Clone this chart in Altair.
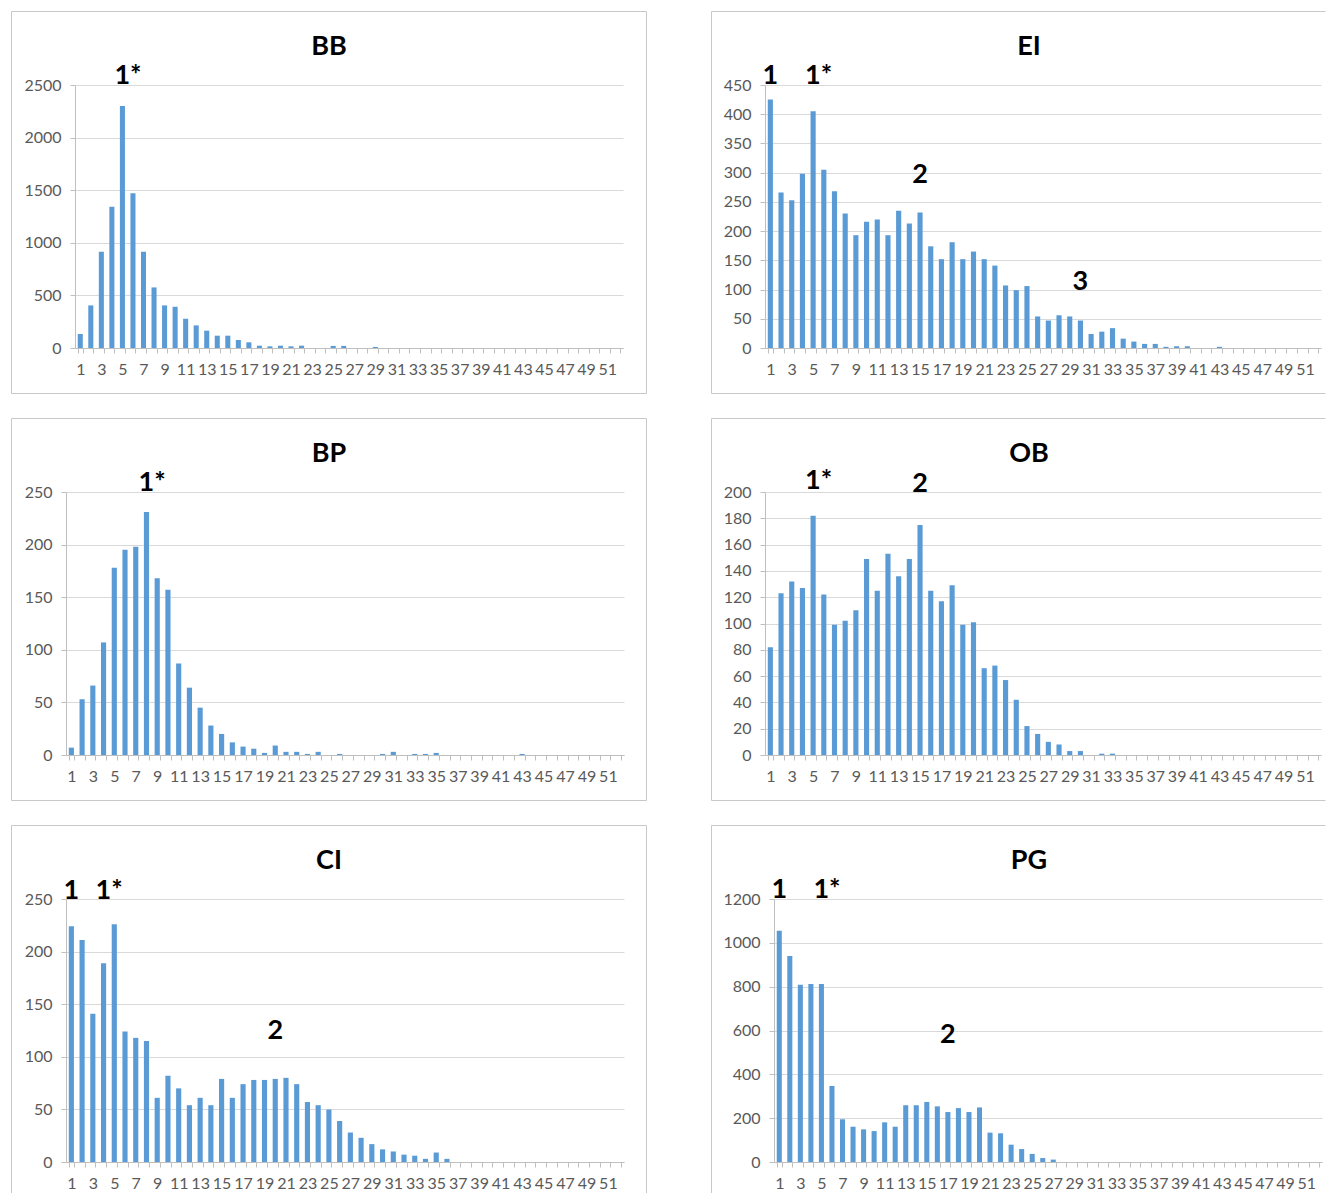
import altair as alt
import pandas as pd

# ---------------- data ----------------
categories = list(range(1, 53))

bb_values = [133, 405, 915, 1342, 2301, 1472, 915, 576, 405, 392, 278, 215, 165, 117, 117,
             76, 54, 22, 16, 22, 16, 22, 0, 0, 20, 20, 0, 0, 10] + [0] * 23
ei_values = [425, 266, 253, 298, 405, 305, 268, 230, 193, 216, 220, 193, 235, 213, 232,
             174, 152, 181, 152, 165, 152, 141, 107, 99, 106, 54, 47, 56, 54, 47, 24, 28,
             34, 16, 11, 7, 7, 2, 3, 3, 0, 0, 2] + [0] * 9
bp_values = [7, 53, 66, 107, 178, 195, 198, 231, 168, 157, 87, 64, 45, 28, 20, 12, 8, 6, 2,
             9, 3, 3, 1, 3, 0, 1, 0, 0, 0, 1, 3, 0, 1, 1, 2, 0, 0, 0, 0, 0, 0, 0, 1] + [0] * 9
ob_values = [82, 123, 132, 127, 182, 122, 99, 102, 110, 149, 125, 153, 136, 149, 175, 125,
             117, 129, 99, 101, 66, 68, 57, 42, 22, 16, 10, 8, 3, 3, 0, 1, 1] + [0] * 19
ci_values = [224, 211, 141, 189, 226, 124, 118, 115, 61, 82, 70, 54, 61, 54, 79, 61, 74, 78,
             78, 79, 80, 74, 57, 54, 50, 39, 28, 23, 17, 12, 10, 7, 6, 3, 9, 3] + [0] * 16
pg_values = [1055, 940, 809, 812, 812, 347, 195, 161, 149, 141, 181, 161, 259, 259, 274, 254,
             228, 246, 228, 249, 134, 131, 79, 59, 37, 18, 11] + [0] * 25

panel_names = ["BB", "EI", "BP", "OB", "CI", "PG"]
panel_values = {"BB": bb_values, "EI": ei_values, "BP": bp_values,
                "OB": ob_values, "CI": ci_values, "PG": pg_values}
y_max = {"BB": 2500, "EI": 450, "BP": 250, "OB": 200, "CI": 250, "PG": 1200}
y_step = {"BB": 500, "EI": 50, "BP": 50, "OB": 20, "CI": 50, "PG": 200}

# annotations (panel, label, category, value)
ann_panel = ["BB", "EI", "EI", "EI", "EI", "BP", "OB", "OB", "CI", "CI", "CI", "PG", "PG", "PG"]
ann_label = ["1*", "1", "1*", "2", "3", "1*", "1*", "2", "1", "1*", "2", "1", "1*", "2"]
ann_cat = [5, 1, 5, 15, 30, 8, 5, 15, 1, 4, 20, 1, 5, 17]
ann_value = [2590, 465, 465, 296, 113, 259, 208, 206, 258, 258, 125, 1240, 1240, 578]

# ---------------- style / layout ----------------
BAR = "#5B9BD5"
FONT = "Lato"
BORDER = "#c8c8c8"
PLOT_H = 263
BOX_TOP = 74
BOX_BOTTOM = 45
plot_width = {"BB": 548, "EI": 556, "BP": 558, "OB": 556, "CI": 558, "PG": 548}
# distance from the panel frame's left edge to the plot area's left edge
box_left = {"BB": 64, "EI": 54, "BP": 55, "OB": 54, "CI": 55, "PG": 63}
box_width = {"BB": 636, "BP": 636, "CI": 636, "EI": 615, "OB": 615, "PG": 615}
# left-column views share one origin; shift the plot inside the view instead
shift = {"BB": 0, "BP": -9, "CI": -9, "EI": 0, "OB": 0, "PG": 0}
has_right = {"BB": True, "BP": True, "CI": True, "EI": False, "OB": False, "PG": False}
has_bottom = {"BB": True, "EI": True, "BP": True, "OB": True, "CI": False, "PG": False}

ann_df = pd.DataFrame({"panel": ann_panel, "label": ann_label,
                       "cat": ann_cat, "val": ann_value})
one = pd.DataFrame({"k": [0]})


def hline(x1, x2, y):
    return alt.Chart(one).mark_rule(color=BORDER, strokeWidth=1).encode(
        x=alt.value(x1), x2=alt.value(x2), y=alt.value(y))


def vline(x, y1, y2):
    return alt.Chart(one).mark_rule(color=BORDER, strokeWidth=1).encode(
        x=alt.value(x), y=alt.value(y1), y2=alt.value(y2))


def panel(name):
    w = plot_width[name]
    s = shift[name]
    df = pd.DataFrame({"cat": categories, "val": panel_values[name]})
    xenc = alt.X(
        "cat:O",
        scale=alt.Scale(domain=categories, range=[s, s + w],
                        paddingInner=0.52, paddingOuter=0.26),
        axis=alt.Axis(
            title=None, labelAngle=0, labelOverlap=False, tickBand="extent",
            labelExpr="datum.value % 2 == 1 ? datum.label : ''",
            grid=False, domainColor="#bfbfbf", tickColor="#bfbfbf", tickSize=5,
            labelFont=FONT, labelFontSize=16, labelColor="#595959", labelPadding=8,
        ),
    )
    yenc = alt.Y(
        "val:Q",
        scale=alt.Scale(domain=[0, y_max[name]], nice=False, zero=True),
        axis=alt.Axis(
            title=None, values=list(range(0, y_max[name] + 1, y_step[name])), format="d",
            grid=True, gridColor="#d9d9d9", domainColor="#bfbfbf", tickColor="#bfbfbf",
            tickSize=5, labelFont=FONT, labelFontSize=16, labelColor="#595959",
            labelPadding=9, offset=-s,
        ),
    )
    bl = box_left[name]
    bw = box_width[name]
    left = s - bl + 0.5
    right = s - bl + bw - 0.5
    top = -BOX_TOP + 0.5
    bottom = PLOT_H + BOX_BOTTOM + 0.5
    y_end = bottom if has_bottom[name] else PLOT_H + 31
    frame = [hline(left, right, top), vline(left, top, y_end)]
    if has_right[name]:
        frame.append(vline(right, top, y_end))
    if has_bottom[name]:
        frame.append(hline(left, right, bottom))

    title = alt.Chart(one).mark_text(
        font=FONT, fontSize=27, fontWeight="bold", color="black",
        align="center", baseline="alphabetic",
    ).encode(x=alt.value(s - bl + 318), y=alt.value(-30), text=alt.value(name))

    bars = alt.Chart(df).mark_bar(color=BAR).encode(x=xenc, y=yenc)

    sub = ann_df[ann_df["panel"] == name]
    star = sub[sub["label"].str.contains(r"\*")]
    plain = sub[~sub["label"].str.contains(r"\*")]
    layers = frame + [bars, title]
    if len(plain):
        layers.append(alt.Chart(plain).mark_text(
            font=FONT, fontSize=27, fontWeight="bold", color="black",
            align="center", baseline="middle",
        ).encode(x=xenc, y=yenc, text="label:N"))
    if len(star):
        layers.append(alt.Chart(star).mark_text(
            font=FONT, fontSize=27, fontWeight="bold", color="black",
            align="left", baseline="middle", dx=-8,
        ).encode(x=xenc, y=yenc, text="label:N"))
    return alt.layer(*layers).properties(width=w + s, height=PLOT_H)


chart = alt.concat(
    *[panel(n) for n in panel_names],
    columns=2, spacing={"row": 24, "column": 64}, align="none",
).properties(
    padding={"left": 3, "top": 3, "right": 0, "bottom": 0}
).configure_view(strokeWidth=0)

chart.save("out.html", embed_options={"renderer": "svg", "actions": False})
